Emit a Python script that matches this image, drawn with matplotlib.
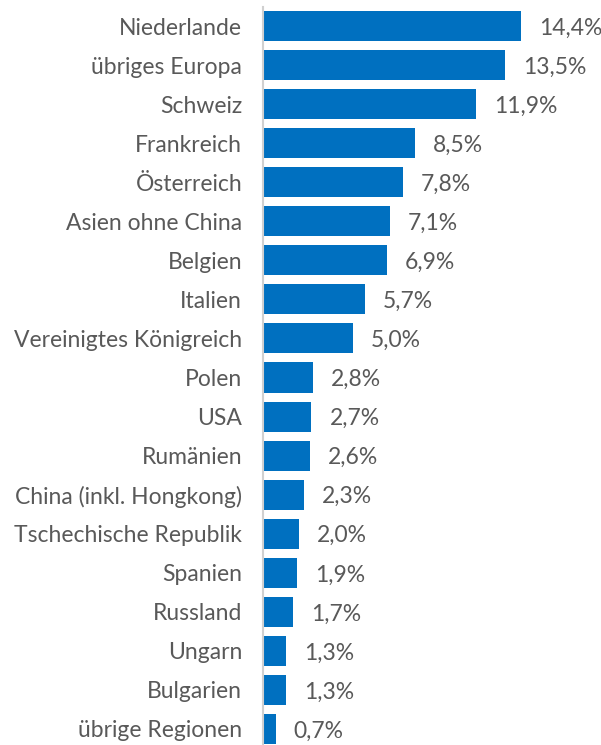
import matplotlib
matplotlib.use("Agg")
import matplotlib.pyplot as plt

categories = [
    "Niederlande", "übriges Europa", "Schweiz", "Frankreich", "Österreich",
    "Asien ohne China", "Belgien", "Italien", "Vereinigtes Königreich",
    "Polen", "USA", "Rumänien", "China (inkl. Hongkong)",
    "Tschechische Republik", "Spanien", "Russland", "Ungarn", "Bulgarien",
    "übrige Regionen",
]
shares = [14.4, 13.5, 11.9, 8.5, 7.8, 7.1, 6.9, 5.7, 5.0,
          2.8, 2.7, 2.6, 2.3, 2.0, 1.9, 1.7, 1.3, 1.3, 0.7]

BAR = "#0070c0"
TXT = "#595959"
FS = 16.5

plt.rcParams["font.family"] = ["Lato", "DejaVu Sans"]

fig = plt.figure(figsize=(6.01, 7.45), dpi=100)
ax = fig.add_axes([263 / 601, -3.5 / 745, 338 / 601, 1 - 3.0 / 745])

ypos = list(range(len(categories)))
ax.barh(ypos, shares, height=0.77, color=BAR)
ax.set_ylim(len(categories) - 0.5, -0.5)
ax.set_xlim(0, 338 / 17.9)

for y, v in zip(ypos, shares):
    ax.annotate(f"{v:.1f}%".replace(".", ","), (v, y), xytext=(13, -1.5),
                textcoords="offset points", ha="left", va="center",
                fontsize=FS, color=TXT)

ax.set_yticks(ypos)
ax.set_yticklabels(categories, fontsize=FS, color=TXT)
ax.tick_params(axis="y", length=0, pad=15)
ax.set_xticks([])
for side in ["top", "right", "bottom"]:
    ax.spines[side].set_visible(False)
ax.spines["left"].set_color("#d0d0d0")
ax.spines["left"].set_linewidth(1.5)

fig.savefig("out.png", dpi=100, facecolor="white")
